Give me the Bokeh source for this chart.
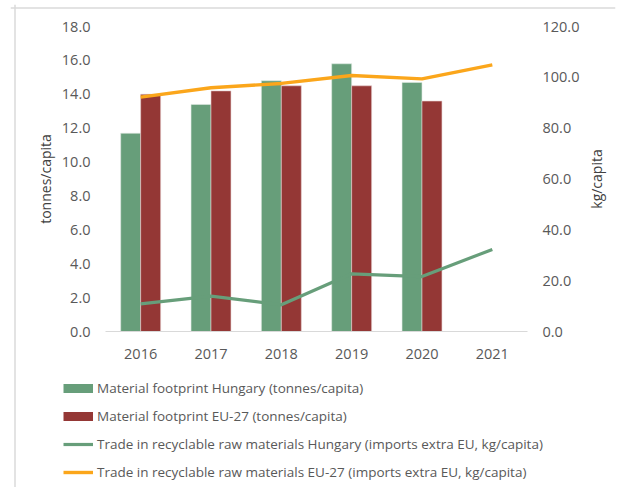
import math
from bokeh.plotting import figure
from bokeh.models import (Range1d, LinearAxis, Legend, LegendItem, Label, Span,
                          NumeralTickFormatter, FixedTicker, ColumnDataSource)
from bokeh.transform import dodge
from bokeh.embed import file_html
from bokeh.resources import INLINE

years = ["2016", "2017", "2018", "2019", "2020", "2021"]
bar_years = ["2016", "2017", "2018", "2019", "2020"]
mf_hungary = [11.7, 13.4, 14.8, 15.8, 14.7]
mf_eu27 = [14.0, 14.2, 14.5, 14.5, 13.6]
trade_hungary = [10.9, 13.9, 10.5, 22.7, 21.6, 32.3]
trade_eu27 = [92.2, 95.9, 97.6, 100.7, 99.4, 104.9]

left_ticks = [0, 2, 4, 6, 8, 10, 12, 14, 16, 18]
right_ticks = [0, 20, 40, 60, 80, 100, 120]

FONT = "Open Sans"
TXT = "#595959"
GREEN = "#679E7A"
RED = "#943735"
ORANGE = "#FBA61B"

# layout geometry (pixels)
W, H = 618, 487
ML, MR, MT = 10, 3, 4
FRAME_L, FRAME_R, FRAME_T, FRAME_B = ML, W - MR, MT, H
CAT0 = 140.17          # pixel centre of first category
CATW = 70.33           # pixel width of one category
TOP_Y = 26             # pixel row of the axis maxima
ZERO_Y = 331           # pixel row of value 0
LEFT_MAX, RIGHT_MAX = 18, 120
ppu_l = (ZERO_Y - TOP_Y) / LEFT_MAX
ppu_r = (ZERO_Y - TOP_Y) / RIGHT_MAX


def xval(px):
    return (px - CAT0) / CATW


def yval(py):
    return (ZERO_Y - py) / ppu_l


idx = list(range(len(years)))
bar_idx = idx[:len(bar_years)]

p = figure(width=W, height=H,
           x_range=Range1d(xval(FRAME_L), xval(FRAME_R)),
           y_range=Range1d(yval(FRAME_B), yval(FRAME_T)),
           x_axis_location="above",
           output_backend="svg", toolbar_location=None,
           min_border_left=ML, min_border_right=MR, min_border_top=MT, min_border_bottom=0)
p.extra_y_ranges = {"right": Range1d((ZERO_Y - FRAME_B) / ppu_r, (ZERO_Y - FRAME_T) / ppu_r)}
p.outline_line_color = None
p.xgrid.grid_line_color = None
p.ygrid.grid_line_color = None

# light chart-area border (top and left edges)
p.add_layout(Span(location=xval(14.5), dimension="height", line_color="#dadada", line_width=1.5))
p.add_layout(Span(location=yval(7.5), dimension="width", line_color="#dadada", line_width=1.5))

bars = ColumnDataSource(dict(x=bar_idx, hu=mf_hungary, eu=mf_eu27))
lines = ColumnDataSource(dict(x=idx, hu=trade_hungary, eu=trade_eu27))

p.vbar(x=dodge("x", -0.142), top="hu", width=0.284,
       source=bars, fill_color=GREEN, line_color="#dfe9e2", line_width=0.6)
p.vbar(x=dodge("x", 0.142), top="eu", width=0.284,
       source=bars, fill_color=RED, line_color="#e5cfcf", line_width=0.6)
r3 = p.line(x="x", y="hu", source=lines, y_range_name="right",
            line_color=GREEN, line_width=3.2)
r4 = p.line(x="x", y="eu", source=lines, y_range_name="right",
            line_color=ORANGE, line_width=3.4)
# legend swatches for the bar series (placeholder renderers that draw nothing)
nan = float("nan")
sw1 = p.line(x=[nan], y=[nan], line_color=GREEN, line_width=9, line_cap="butt")
sw2 = p.line(x=[nan], y=[nan], line_color=RED, line_width=9, line_cap="butt")

# left axis
ya = p.yaxis[0]
ya.fixed_location = xval(60)
ya.ticker = FixedTicker(ticks=left_ticks)
ya.formatter = NumeralTickFormatter(format="0.0")
ya.axis_line_color = None
ya.major_tick_line_color = None
ya.major_tick_out = 0
ya.minor_tick_line_color = None
ya.minor_tick_out = 0
ya.major_label_standoff = -30
ya.major_label_text_font = FONT
ya.major_label_text_font_size = "14.5px"
ya.major_label_text_color = TXT

# right axis
ra = LinearAxis(y_range_name="right", ticker=FixedTicker(ticks=right_ticks),
                formatter=NumeralTickFormatter(format="0.0"))
ra.fixed_location = xval(582)
ra.axis_line_color = None
ra.major_tick_line_color = None
ra.major_tick_out = 0
ra.minor_tick_line_color = None
ra.minor_tick_out = 0
ra.major_label_standoff = -40
ra.major_label_text_font = FONT
ra.major_label_text_font_size = "14.5px"
ra.major_label_text_color = TXT
p.add_layout(ra, "right")

# axis titles
p.add_layout(Label(x=xval(45), y=LEFT_MAX / 2, text="tonnes/capita", angle=math.pi / 2,
                   text_align="center", text_baseline="middle",
                   text_font=FONT, text_font_size="14px", text_color="#404040"))
p.add_layout(Label(x=xval(596), y=LEFT_MAX / 2, text="kg/capita", angle=math.pi / 2,
                   text_align="center", text_baseline="middle",
                   text_font=FONT, text_font_size="14px", text_color="#404040"))

# category axis, drawn along the zero line
xa = p.xaxis[0]
xa.fixed_location = 0
xa.bounds = (-0.5, len(years) - 0.5)
xa.ticker = FixedTicker(ticks=idx)
xa.major_label_overrides = {i: y for i, y in zip(idx, years)}
xa.axis_line_color = "#d9d9d9"
xa.axis_line_width = 1.2
xa.major_tick_line_color = None
xa.major_tick_out = 0
xa.minor_tick_line_color = None
xa.minor_tick_out = 0
xa.major_label_standoff = -27
xa.major_label_text_font = FONT
xa.major_label_text_font_size = "14.5px"
xa.major_label_text_color = TXT

legend = Legend(items=[
    LegendItem(label="Material footprint Hungary (tonnes/capita)", renderers=[sw1]),
    LegendItem(label="Material footprint EU-27 (tonnes/capita)", renderers=[sw2]),
    LegendItem(label="Trade in recyclable raw materials Hungary (imports extra EU, kg/capita)", renderers=[r3]),
    LegendItem(label="Trade in recyclable raw materials EU-27 (imports extra EU, kg/capita)", renderers=[r4]),
], location=(63 - FRAME_L, FRAME_B - 482), orientation="vertical")
legend.border_line_color = None
legend.background_fill_alpha = 0
legend.padding = 0
legend.margin = 0
legend.spacing = 8
legend.glyph_width = 30
legend.glyph_height = 20
legend.label_height = 20
legend.label_standoff = 4
legend.label_text_font = FONT
legend.label_text_font_size = "13.5px"
legend.label_text_color = TXT
p.add_layout(legend, "center")

open("out.html", "w").write(file_html(p, INLINE))
